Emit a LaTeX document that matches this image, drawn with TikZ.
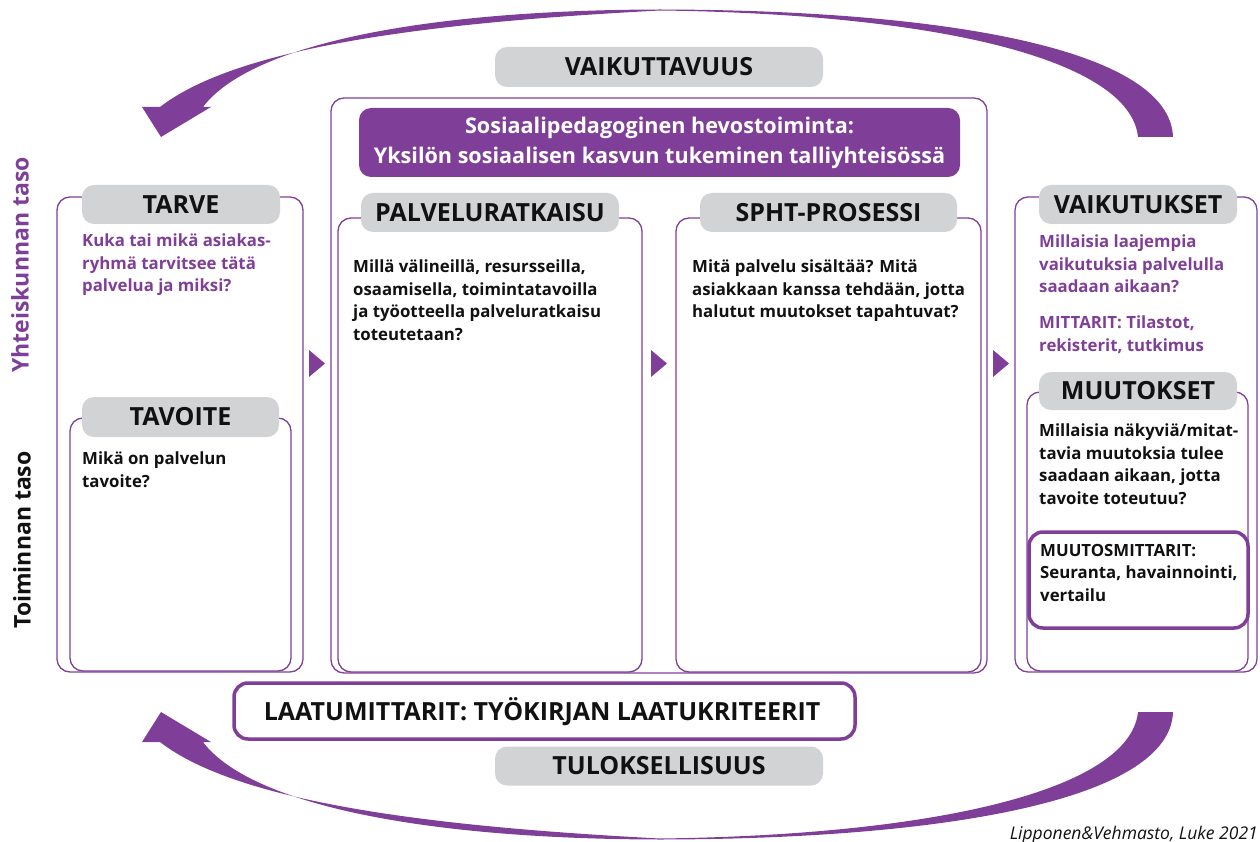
\documentclass[tikz,border=0pt]{standalone}
\usepackage{fontspec}
\setmainfont{Open Sans}
\definecolor{pur}{HTML}{7F3F98}
\definecolor{pillgray}{HTML}{D2D3D5}
\definecolor{ink}{HTML}{111111}
\tikzset{
  frame/.style={draw=pur, line width=1.3pt, rounded corners=13pt, inner sep=0pt},
  thickbox/.style={draw=pur, line width=3.5pt, rounded corners=14pt, inner sep=0pt, fill=white},
  pill/.style={fill=pillgray, rounded corners=12pt, inner sep=0pt, text=ink,
    font=\fontsize{25}{30}\selectfont\bfseries},
  body/.style={anchor=north west, inner sep=0pt, align=left, text=ink,
    font=\fontsize{16.8}{22.5}\selectfont\bfseries},
  pbody/.style={body, text=pur},
  tri/.style={fill=pur},
  bigarrow/.style={fill=pur},
}
\begin{document}
\begin{tikzpicture}[x=1pt,y=-1pt]
\useasboundingbox (0,0) rectangle (1260,842);

% big curved arrows
\fill[bigarrow] (1173,137) .. controls (1170,50) and (950,10) .. (660,9.5)
  .. controls (420,10) and (250,45) .. (203,107) -- (211,107) -- (161,137) -- (142,107) -- (160,107)
  .. controls (240,45) and (440,22) .. (660,10.5)
  .. controls (940,14) and (1130,60) .. (1138,137) -- cycle;
\fill[bigarrow] (1173,712) .. controls (1170,799) and (950,839) .. (660,839.5)
  .. controls (420,839) and (250,804) .. (203,742) -- (211,742) -- (161,712) -- (142,742) -- (160,742)
  .. controls (240,804) and (440,827) .. (660,838.5)
  .. controls (940,835) and (1130,789) .. (1138,712) -- cycle;

% side labels
\node[rotate=90, text=pur, font=\fontsize{23}{27}\selectfont\bfseries] (ylabel) at (20,265) {Yhteiskunnan taso};
\node[rotate=90, text=ink, font=\fontsize{23}{27}\selectfont\bfseries] (tlabel) at (22,540) {Toiminnan taso};

% frames
\node[frame, minimum width=246pt, minimum height=475pt] (tarveF) at (180,434.5) {};
\node[frame, minimum width=221pt, minimum height=253pt] (tavoiteF) at (180.5,544.5) {};
\node[frame, minimum width=656pt, minimum height=575pt] (midF) at (659,385.5) {};
\node[frame, minimum width=304pt, minimum height=454pt] (palvF) at (490,445) {};
\node[frame, minimum width=305pt, minimum height=454pt] (sphtF) at (828.5,445) {};
\node[frame, minimum width=242pt, minimum height=475pt] (vaikF) at (1136,434.5) {};
\node[frame, minimum width=221pt, minimum height=279pt] (muutF) at (1137.5,531.5) {};
\node[thickbox, minimum width=219pt, minimum height=96pt] (mittB) at (1138.5,580) {};
\node[thickbox, minimum width=621pt, minimum height=56pt] (laatuB) at (544.5,711) {};

% header
\node[fill=pur, rounded corners=12pt, minimum width=601pt, minimum height=69pt, inner sep=0pt,
  text=white, align=center, font=\fontsize{21.6}{30}\selectfont\bfseries] (header) at (659.5,142.5)
  {Sosiaalipedagoginen hevostoiminta:\\Yksilön sosiaalisen kasvun tukeminen talliyhteisössä};

% pills
\node[pill, minimum width=198pt, minimum height=39pt] (tarveP) at (181,204.5) {TARVE};
\node[pill, minimum width=197pt, minimum height=40pt] (tavoiteP) at (180.5,417) {TAVOITE};
\node[pill, minimum width=258pt, minimum height=39pt] (palvP) at (490,212.5) {PALVELURATKAISU};
\node[pill, minimum width=257pt, minimum height=39pt] (sphtP) at (828.5,212.5) {SPHT-PROSESSI};
\node[pill, minimum width=198pt, minimum height=39pt] (vaikP) at (1138,204.5) {VAIKUTUKSET};
\node[pill, minimum width=198pt, minimum height=38pt] (muutP) at (1138,391) {MUUTOKSET};
\node[pill, minimum width=328pt, minimum height=40pt] (vaikuttP) at (659,67) {VAIKUTTAVUUS};
\node[pill, minimum width=328pt, minimum height=39pt] (tulosP) at (659,766) {TULOKSELLISUUS};

% texts
\node[pbody] (tarveT) at (82,234) {Kuka tai mikä asiakas-\\ryhmä tarvitsee tätä\\palvelua ja miksi?};
\node[body] (tavoiteT) at (82,452) {Mikä on palvelun\\tavoite?};
\node[body] (palvT) at (353,260) {Millä välineillä, resursseilla,\\osaamisella, toimintatavoilla\\ja työotteella palveluratkaisu\\toteutetaan?};
\node[body] (sphtT) at (692,260) {Mitä palvelu sisältää? Mitä\\asiakkaan kanssa tehdään, jotta\\halutut muutokset tapahtuvat?};
\node[pbody] (vaikT) at (1039,235) {Millaisia laajempia\\vaikutuksia palvelulla\\saadaan aikaan?};
\node[pbody] (mittT) at (1039,316) {MITTARIT: Tilastot,\\rekisterit, tutkimus};
\node[body] (muutT) at (1039,424) {Millaisia näkyviä/mitat-\\tavia muutoksia tulee\\saadaan aikaan, jotta\\tavoite toteutuu?};
\node[body] (mittBT) at (1040,544) {MUUTOSMITTARIT:\\Seuranta, havainnointi,\\vertailu};
\node[inner sep=0pt, text=ink, font=\fontsize{25}{30}\selectfont\bfseries] (laatuT) at (542,712) {LAATUMITTARIT: TYÖKIRJAN LAATUKRITEERIT};

% small triangles
\fill[tri] (309,350) -- (325,363.5) -- (309,377) -- cycle;
\fill[tri] (651,350) -- (667,363.5) -- (651,377) -- cycle;
\fill[tri] (993,350) -- (1009,363.5) -- (993,377) -- cycle;

% credit
\node[anchor=base east, inner sep=0pt, text=ink, font=\fontsize{17.5}{20}\selectfont\itshape] (credit) at (1258,839) {Lipponen\&Vehmasto, Luke 2021};
\end{tikzpicture}
\end{document}
